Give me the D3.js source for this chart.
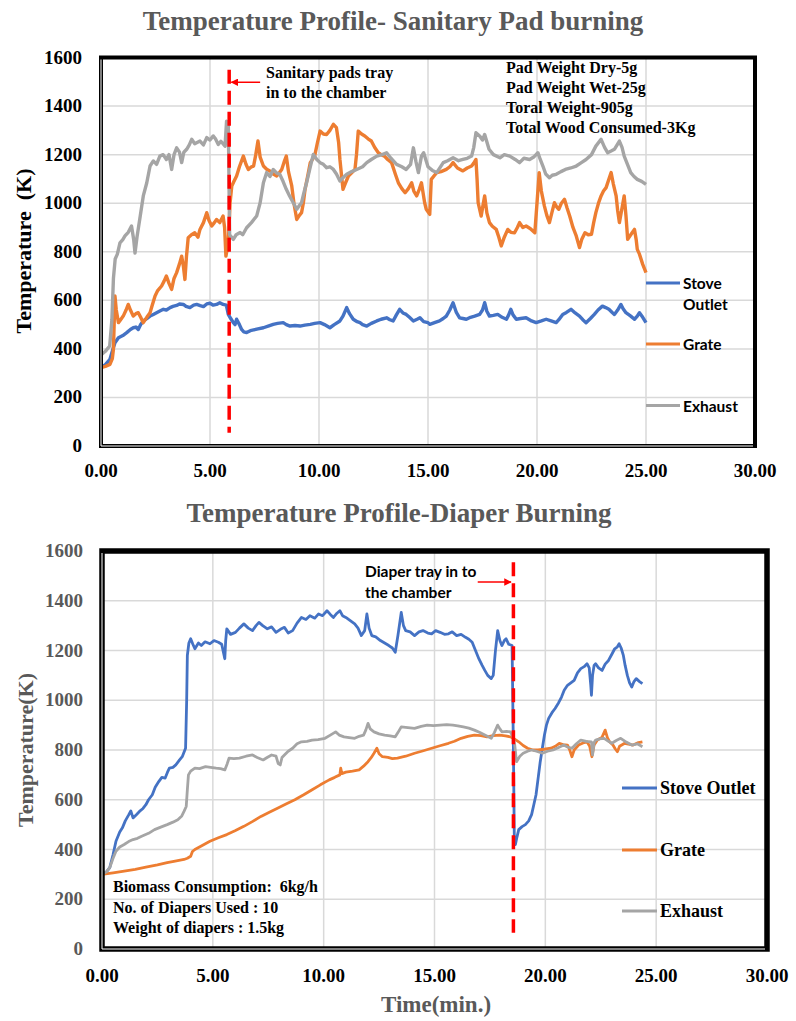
<!DOCTYPE html>
<html>
<head>
<meta charset="utf-8">
<script src="https://cdn.jsdelivr.net/npm/d3@7"></script>
<style>
  body { margin: 0; background: #fff; }
  svg { display: block; }
  text { white-space: pre; }
</style>
</head>
<body>
<div id="chart"></div>
<script>
// ticks shared by both panels
var xTicks = [0, 5, 10, 15, 20, 25, 30];
var yTicks = [0, 200, 400, 600, 800, 1000, 1200, 1400, 1600];
var seriesNames = ["Stove Outlet", "Grate", "Exhaust"];

// sanitary pad burning, [minutes, K]
var padStove = [[0,323],[0.2,335],[0.41,357],[0.55,400],[0.64,425],[0.8,446],[1.0,455],[1.18,467],[1.35,480],[1.48,487],[1.6,490],[1.71,480],[1.82,500],[1.94,515],[2.1,525],[2.25,535],[2.4,542],[2.55,549],[2.7,556],[2.86,563],[3.0,560],[3.17,570],[3.3,575],[3.47,579],[3.6,585],[3.78,583],[3.9,575],[4.08,570],[4.25,580],[4.39,583],[4.55,578],[4.7,574],[4.85,585],[5.0,588],[5.15,580],[5.3,583],[5.45,590],[5.6,583],[5.75,580],[5.84,542],[5.95,525],[6.07,508],[6.15,500],[6.22,522],[6.35,500],[6.45,480],[6.55,470],[6.68,467],[6.85,475],[7.0,478],[7.2,482],[7.45,487],[7.7,495],[7.9,501],[8.1,505],[8.36,508],[8.5,500],[8.67,494],[8.9,496],[9.13,494],[9.35,498],[9.6,501],[9.8,505],[10.05,508],[10.25,500],[10.5,487],[10.7,500],[10.96,515],[11.1,535],[11.27,570],[11.4,545],[11.57,522],[11.75,512],[11.88,508],[12.0,500],[12.19,494],[12.4,505],[12.65,515],[12.85,522],[13.1,528],[13.25,520],[13.4,515],[13.55,540],[13.7,563],[13.85,548],[14.0,542],[14.15,530],[14.33,515],[14.5,522],[14.63,528],[14.8,512],[15.0,508],[15.08,501],[15.3,508],[15.53,515],[15.7,525],[15.84,535],[16.0,560],[16.15,590],[16.3,550],[16.45,528],[16.6,525],[16.76,522],[16.95,530],[17.14,535],[17.37,542],[17.5,560],[17.6,590],[17.7,555],[17.82,535],[18.0,538],[18.2,542],[18.4,530],[18.6,522],[18.7,540],[18.8,563],[18.9,540],[19.05,522],[19.25,525],[19.5,528],[19.75,515],[19.96,508],[20.2,515],[20.42,522],[20.65,515],[20.88,508],[21.0,520],[21.18,542],[21.35,550],[21.56,563],[21.75,548],[21.95,535],[22.1,520],[22.25,508],[22.45,525],[22.63,542],[22.8,560],[23.0,576],[23.15,570],[23.3,563],[23.45,550],[23.55,542],[23.7,560],[23.85,583],[23.95,565],[24.08,549],[24.3,535],[24.47,522],[24.6,535],[24.7,549],[24.85,530],[25.0,508]];
var padGrate = [[0,323],[0.2,328],[0.41,336],[0.52,360],[0.57,398],[0.64,618],[0.7,560],[0.8,508],[0.9,520],[1.02,535],[1.15,560],[1.25,583],[1.35,560],[1.48,535],[1.6,545],[1.71,549],[1.82,530],[1.94,508],[2.1,530],[2.25,549],[2.35,580],[2.48,618],[2.6,640],[2.78,659],[2.9,680],[3.0,700],[3.12,670],[3.24,645],[3.35,690],[3.47,714],[3.6,750],[3.7,782],[3.78,740],[3.85,686],[3.92,780],[4.0,858],[4.15,870],[4.3,878],[4.45,860],[4.54,892],[4.7,920],[4.85,961],[4.95,930],[5.08,906],[5.2,920],[5.3,933],[5.45,920],[5.6,947],[5.67,900],[5.73,782],[5.84,837],[5.92,1000],[6.0,1071],[6.1,1090],[6.22,1112],[6.35,1150],[6.53,1194],[6.65,1160],[6.76,1139],[6.9,1150],[7.0,1153],[7.1,1200],[7.2,1256],[7.3,1190],[7.45,1153],[7.6,1140],[7.75,1133],[7.9,1120],[8.06,1112],[8.18,1125],[8.29,1139],[8.4,1170],[8.5,1194],[8.6,1130],[8.75,1071],[8.85,1000],[8.98,933],[9.1,950],[9.2,961],[9.28,1000],[9.36,1057],[9.5,1120],[9.6,1167],[9.8,1194],[9.93,1250],[10.05,1297],[10.2,1285],[10.35,1283],[10.5,1300],[10.66,1325],[10.8,1311],[10.9,1250],[10.96,1180],[11.05,1100],[11.1,1057],[11.2,1080],[11.35,1112],[11.5,1125],[11.65,1139],[11.72,1200],[11.8,1297],[11.95,1285],[12.1,1277],[12.25,1265],[12.4,1256],[12.55,1230],[12.72,1208],[12.85,1200],[13.0,1194],[13.15,1180],[13.33,1167],[13.5,1120],[13.64,1084],[13.8,1060],[13.95,1043],[14.1,1060],[14.25,1084],[14.35,1050],[14.48,1030],[14.6,1057],[14.7,1084],[14.85,1000],[14.92,975],[15.08,954],[15.15,1098],[15.3,1115],[15.4,1126],[15.6,1130],[15.84,1139],[16.0,1150],[16.15,1167],[16.35,1145],[16.6,1133],[16.8,1145],[17.0,1153],[17.1,1165],[17.2,1180],[17.25,1100],[17.3,1002],[17.44,947],[17.52,990],[17.6,1030],[17.7,960],[17.82,920],[17.95,905],[18.13,892],[18.25,860],[18.36,824],[18.5,860],[18.66,892],[18.8,880],[18.97,878],[19.1,900],[19.2,920],[19.35,900],[19.5,906],[19.7,895],[19.9,878],[20.0,1000],[20.1,1126],[20.2,1050],[20.34,988],[20.45,950],[20.57,920],[20.68,960],[20.8,1002],[20.9,985],[21.0,975],[21.12,1000],[21.26,1016],[21.38,980],[21.5,947],[21.65,900],[21.8,865],[21.95,817],[22.05,850],[22.2,878],[22.35,870],[22.5,872],[22.6,920],[22.7,961],[22.82,1000],[22.94,1030],[23.05,1050],[23.17,1064],[23.3,1100],[23.4,1126],[23.5,1080],[23.63,1030],[23.7,970],[23.78,920],[23.9,980],[24.0,1030],[24.08,950],[24.16,851],[24.3,870],[24.47,892],[24.55,850],[24.6,810],[24.7,790],[24.85,748],[25.0,714]];
var padExhaust = [[0,375],[0.2,390],[0.4,412],[0.5,520],[0.57,690],[0.65,770],[0.75,790],[0.87,837],[1.0,850],[1.1,865],[1.25,880],[1.4,906],[1.5,850],[1.56,795],[1.65,860],[1.8,947],[1.94,1030],[2.1,1084],[2.25,1153],[2.4,1174],[2.55,1160],[2.7,1194],[2.85,1200],[3.0,1180],[3.12,1200],[3.24,1139],[3.35,1200],[3.47,1228],[3.6,1210],[3.7,1167],[3.8,1210],[3.93,1222],[4.05,1240],[4.16,1263],[4.3,1245],[4.54,1256],[4.7,1240],[4.85,1270],[5.0,1260],[5.15,1277],[5.25,1265],[5.38,1242],[5.5,1255],[5.69,1235],[5.76,1338],[5.84,1331],[5.9,870],[6.07,851],[6.2,870],[6.38,879],[6.5,870],[6.68,899],[6.9,920],[7.14,947],[7.3,1002],[7.45,1084],[7.6,1126],[7.75,1110],[7.9,1139],[8.05,1125],[8.2,1119],[8.35,1090],[8.5,1057],[8.65,1030],[8.82,1002],[8.98,975],[9.1,990],[9.2,1002],[9.3,1040],[9.43,1084],[9.6,1150],[9.74,1201],[9.9,1180],[10.05,1167],[10.2,1160],[10.35,1146],[10.5,1150],[10.66,1139],[10.8,1120],[10.96,1091],[11.1,1105],[11.27,1119],[11.5,1130],[11.73,1139],[12.0,1150],[12.19,1167],[12.4,1180],[12.65,1194],[12.9,1200],[13.1,1208],[13.3,1185],[13.56,1160],[13.8,1150],[14.0,1139],[14.2,1160],[14.33,1228],[14.45,1170],[14.56,1126],[14.7,1194],[14.8,1208],[15.0,1150],[15.2,1135],[15.4,1126],[15.7,1167],[15.9,1175],[16.15,1187],[16.4,1175],[16.6,1180],[16.8,1185],[17.0,1194],[17.1,1230],[17.2,1290],[17.37,1277],[17.5,1260],[17.6,1283],[17.8,1222],[18.0,1200],[18.3,1187],[18.5,1200],[18.75,1194],[19.0,1180],[19.2,1167],[19.4,1185],[19.66,1180],[19.85,1190],[20.04,1208],[20.15,1180],[20.27,1153],[20.4,1120],[20.57,1105],[20.7,1115],[20.88,1119],[21.1,1130],[21.3,1139],[21.55,1145],[21.8,1153],[22.0,1165],[22.25,1180],[22.5,1200],[22.7,1235],[22.94,1263],[23.1,1230],[23.24,1208],[23.4,1215],[23.55,1222],[23.78,1256],[23.9,1230],[24.0,1194],[24.15,1160],[24.3,1126],[24.45,1110],[24.6,1098],[24.8,1090],[25.0,1077]];

// diaper burning
var diaperStove = [[0,300],[0.2,310],[0.35,327],[0.5,380],[0.63,433],[0.8,470],[0.92,487],[1.05,515],[1.21,540],[1.3,555],[1.4,527],[1.55,540],[1.69,553],[1.85,565],[1.98,580],[2.1,600],[2.27,620],[2.4,650],[2.56,673],[2.7,690],[2.85,687],[2.95,710],[3.04,727],[3.2,730],[3.33,740],[3.5,760],[3.62,773],[3.77,807],[3.82,1000],[3.85,1180],[3.92,1230],[4.0,1247],[4.1,1225],[4.19,1207],[4.35,1230],[4.48,1220],[4.65,1235],[4.87,1227],[5.05,1240],[5.25,1233],[5.4,1225],[5.54,1167],[5.58,1240],[5.63,1287],[5.8,1265],[6.02,1273],[6.2,1290],[6.4,1307],[6.6,1290],[6.79,1280],[6.95,1300],[7.08,1313],[7.25,1300],[7.46,1287],[7.65,1295],[7.85,1273],[8.05,1285],[8.23,1293],[8.4,1270],[8.6,1280],[8.8,1310],[9.0,1333],[9.2,1325],[9.38,1340],[9.6,1330],[9.77,1347],[9.95,1340],[10.15,1360],[10.3,1345],[10.44,1333],[10.6,1350],[10.73,1360],[10.85,1340],[11.0,1333],[11.2,1320],[11.4,1307],[11.55,1290],[11.7,1260],[11.85,1280],[11.95,1347],[12.05,1290],[12.17,1260],[12.35,1255],[12.56,1240],[12.75,1230],[12.94,1220],[13.1,1210],[13.23,1193],[13.35,1260],[13.5,1353],[13.6,1300],[13.7,1280],[13.9,1275],[14.1,1260],[14.3,1275],[14.48,1280],[14.7,1270],[14.87,1267],[15.05,1280],[15.25,1273],[15.45,1265],[15.63,1267],[15.8,1275],[16.0,1260],[16.2,1265],[16.4,1253],[16.55,1245],[16.7,1233],[16.85,1200],[17.0,1167],[17.15,1140],[17.27,1120],[17.4,1100],[17.56,1087],[17.65,1100],[17.75,1200],[17.85,1280],[17.95,1240],[18.04,1220],[18.15,1240],[18.23,1247],[18.35,1225],[18.5,1220],[18.56,800],[18.6,447],[18.65,420],[18.72,450],[18.8,480],[18.95,492],[19.1,500],[19.25,515],[19.38,540],[19.48,580],[19.58,620],[19.68,690],[19.77,753],[19.87,810],[19.96,860],[20.05,900],[20.15,927],[20.3,950],[20.44,967],[20.6,990],[20.73,1013],[20.85,1040],[21.0,1060],[21.15,1070],[21.3,1080],[21.45,1110],[21.6,1127],[21.75,1135],[21.88,1147],[21.98,1130],[22.05,1060],[22.08,1020],[22.13,1100],[22.2,1140],[22.27,1147],[22.4,1130],[22.56,1120],[22.7,1145],[22.85,1160],[23.0,1185],[23.13,1207],[23.25,1215],[23.33,1227],[23.42,1210],[23.52,1180],[23.6,1140],[23.7,1100],[23.8,1070],[23.9,1053],[24.0,1075],[24.1,1087],[24.25,1075],[24.38,1067]];
var diaperGrate = [[0,300],[0.5,306],[1.0,313],[1.5,320],[1.98,329],[2.5,338],[2.94,347],[3.3,353],[3.7,360],[3.85,365],[4.0,373],[4.08,392],[4.19,400],[4.5,415],[4.87,433],[5.25,447],[5.63,460],[6.0,475],[6.4,493],[6.8,513],[7.17,533],[7.55,550],[7.94,567],[8.3,583],[8.7,600],[9.1,620],[9.48,640],[9.85,660],[10.25,680],[10.5,690],[10.73,700],[10.77,727],[10.82,705],[11.0,711],[11.3,715],[11.6,720],[11.8,735],[12.0,753],[12.15,770],[12.27,787],[12.4,807],[12.5,785],[12.65,773],[12.9,770],[13.1,765],[13.33,767],[13.7,775],[14.1,787],[14.5,797],[14.87,807],[15.25,817],[15.63,827],[15.9,835],[16.2,847],[16.5,855],[16.8,860],[17.1,858],[17.37,853],[17.65,858],[17.94,860],[18.2,857],[18.42,853],[18.6,845],[18.8,833],[19.0,818],[19.2,807],[19.45,800],[19.67,800],[19.95,803],[20.25,807],[20.45,815],[20.63,827],[20.8,822],[21.0,820],[21.1,800],[21.2,773],[21.3,800],[21.5,820],[21.7,828],[21.88,833],[22.0,815],[22.1,773],[22.2,820],[22.35,840],[22.55,850],[22.7,880],[22.8,850],[22.9,833],[23.05,820],[23.15,805],[23.25,793],[23.35,815],[23.58,827],[23.8,823],[23.96,820],[24.2,830],[24.38,833]];
var diaperExhaust = [[0,300],[0.2,310],[0.35,327],[0.5,365],[0.63,393],[0.8,410],[1.0,420],[1.2,432],[1.4,440],[1.6,445],[1.79,453],[2.1,465],[2.37,480],[2.65,490],[2.94,500],[3.2,510],[3.42,520],[3.6,535],[3.7,553],[3.8,573],[3.85,640],[3.9,700],[4.0,715],[4.19,727],[4.4,725],[4.67,733],[4.9,730],[5.15,727],[5.35,725],[5.54,720],[5.65,745],[5.73,767],[5.95,765],[6.2,767],[6.5,775],[6.79,780],[7.0,770],[7.27,760],[7.45,770],[7.65,780],[7.85,775],[7.95,745],[8.04,740],[8.12,770],[8.23,780],[8.4,795],[8.6,807],[8.8,825],[9.0,833],[9.25,835],[9.48,840],[9.75,842],[10.06,847],[10.3,860],[10.54,873],[10.7,860],[10.92,853],[11.15,850],[11.4,847],[11.6,855],[11.8,860],[11.9,880],[12.0,907],[12.1,885],[12.27,873],[12.5,865],[12.75,860],[13.0,857],[13.23,853],[13.35,870],[13.5,893],[13.8,890],[14.1,887],[14.4,895],[14.67,900],[14.95,898],[15.25,900],[15.55,902],[15.83,900],[16.05,897],[16.3,893],[16.55,888],[16.8,880],[17.05,870],[17.27,860],[17.45,852],[17.56,847],[17.7,870],[17.85,900],[17.95,885],[18.04,873],[18.25,875],[18.42,873],[18.56,850],[18.62,820],[18.7,753],[18.85,775],[19.0,787],[19.2,795],[19.38,800],[19.6,795],[19.87,787],[20.1,795],[20.35,800],[20.6,810],[20.83,820],[21.0,812],[21.2,807],[21.4,825],[21.6,840],[21.85,835],[22.08,833],[22.13,780],[22.2,830],[22.27,840],[22.45,845],[22.65,847],[22.85,835],[23.0,827],[23.2,838],[23.4,847],[23.65,832],[23.9,820],[24.15,825],[24.38,813]];

// when the tray went in (minutes)
var padTrayTime = 5.88;
var diaperTrayTime = 18.56;

var colors = ["#4472C4", "#ED7D31", "#A5A5A5"];
var serif = "'Liberation Serif', 'Times New Roman', serif";
var sans = "Lato, 'Open Sans', sans-serif";
var titleGray = "#595959";

var svg = d3.select("#chart").append("svg")
  .attr("width", 796)
  .attr("height", 1021);

// red arrow head
svg.append("defs").append("marker")
  .attr("id", "redArrow")
  .attr("viewBox", "0 0 10 10")
  .attr("refX", 9).attr("refY", 5)
  .attr("markerWidth", 5).attr("markerHeight", 5)
  .attr("orient", "auto")
  .append("path")
  .attr("d", "M0,0 L10,5 L0,10 z")
  .attr("fill", "#ff0000");

function drawPanel(cfg) {
  var x = d3.scaleLinear().domain([0, 30]).range([cfg.left, cfg.right]);
  var y = d3.scaleLinear().domain([0, 1600]).range([cfg.bottom, cfg.top]);
  var g = svg.append("g");

  // grid
  g.selectAll(".hgrid").data(yTicks).enter().append("line")
    .attr("x1", cfg.left).attr("x2", cfg.right)
    .attr("y1", function(d) { return y(d); }).attr("y2", function(d) { return y(d); })
    .attr("stroke", "#d9d9d9").attr("stroke-width", 1.5);
  g.selectAll(".vgrid").data(xTicks).enter().append("line")
    .attr("y1", cfg.top).attr("y2", cfg.bottom)
    .attr("x1", function(d) { return x(d); }).attr("x2", function(d) { return x(d); })
    .attr("stroke", "#d9d9d9").attr("stroke-width", 1.5);

  // tick labels
  g.selectAll(".ylab").data(yTicks).enter().append("text")
    .attr("x", cfg.left - 19)
    .attr("y", function(d) { return y(d) + 6; })
    .attr("text-anchor", "end")
    .attr("font-family", serif).attr("font-weight", "bold")
    .attr("font-size", 19).attr("fill", cfg.yLabelColor)
    .text(function(d) { return d; });
  g.selectAll(".xlab").data(xTicks).enter().append("text")
    .attr("x", function(d) { return x(d); })
    .attr("y", cfg.xLabelY)
    .attr("text-anchor", "middle")
    .attr("font-family", serif).attr("font-weight", "bold")
    .attr("font-size", 19).attr("fill", "#000")
    .text(function(d) { return d3.format(".2f")(d); });

  // lines: stove, grate, exhaust (exhaust on top)
  var line = d3.line()
    .x(function(d) { return x(d[0]); })
    .y(function(d) { return y(d[1]); });
  cfg.series.forEach(function(s, i) {
    g.append("path")
      .datum(s)
      .attr("d", line)
      .attr("fill", "none")
      .attr("stroke", colors[i])
      .attr("stroke-width", cfg.lineWidth)
      .attr("stroke-linejoin", "round");
  });

  // tray marker
  g.append("line")
    .attr("x1", x(cfg.trayTime)).attr("x2", x(cfg.trayTime))
    .attr("y1", y(cfg.trayTop)).attr("y2", y(cfg.trayBottom))
    .attr("stroke", "#ff0000").attr("stroke-width", 3.5)
    .attr("stroke-dasharray", "14,7");
  g.append("line")
    .attr("x1", x(cfg.arrowFrom)).attr("x2", x(cfg.arrowTo))
    .attr("y1", y(cfg.arrowK)).attr("y2", y(cfg.arrowK))
    .attr("stroke", "#ff0000").attr("stroke-width", 1.5)
    .attr("marker-end", "url(#redArrow)");

  // frame, with a thin white gap on the left and bottom edges
  g.append("rect")
    .attr("x", cfg.left).attr("y", cfg.top)
    .attr("width", cfg.right - cfg.left).attr("height", cfg.bottom - cfg.top)
    .attr("fill", "none").attr("stroke", "#000").attr("stroke-width", cfg.frameWidth);
  g.append("path")
    .attr("d", "M" + cfg.left + "," + (cfg.top + 2) + "V" + cfg.bottom + "H" + (cfg.right - 2))
    .attr("fill", "none").attr("stroke", "#fff").attr("stroke-width", 1);

  // legend
  seriesNames.forEach(function(name, i) {
    var ly = cfg.legendY[i];
    g.append("line")
      .attr("x1", cfg.legendX).attr("x2", cfg.legendX + cfg.legendLen)
      .attr("y1", ly).attr("y2", ly)
      .attr("stroke", colors[i]).attr("stroke-width", 3);
    var t = g.append("text")
      .attr("x", cfg.legendX + cfg.legendLen + 3)
      .attr("y", ly + 6)
      .attr("font-family", cfg.legendFont).attr("font-weight", "bold")
      .attr("font-size", cfg.legendSize).attr("fill", "#000");
    var parts = cfg.legendWrap && name === "Stove Outlet" ? ["Stove", "Outlet"] : [name];
    parts.forEach(function(p, j) {
      t.append("tspan").attr("x", cfg.legendX + cfg.legendLen + 3)
        .attr("dy", j === 0 ? 0 : 21).text(p);
    });
  });
  return g;
}

function addText(lines, x, y, step, font, size, color, anchor) {
  lines.forEach(function(s, i) {
    svg.append("text")
      .attr("x", x).attr("y", y + i * step)
      .attr("text-anchor", anchor || "start")
      .attr("font-family", font).attr("font-weight", "bold")
      .attr("font-size", size).attr("fill", color)
      .text(s);
  });
}

// ---- top panel
drawPanel({
  left: 101, right: 755, top: 57.5, bottom: 446,
  series: [padStove, padGrate, padExhaust],
  yLabelColor: "#000", xLabelY: 477, lineWidth: 3.4,
  trayTime: padTrayTime, trayTop: 1550, trayBottom: 55,
  arrowFrom: 7.3, arrowTo: 5.98, arrowK: 1498,
  frameWidth: 4,
  legendX: 646, legendLen: 34, legendY: [283, 344, 405.5],
  legendFont: sans, legendSize: 15.5, legendWrap: true
});
addText(["Temperature Profile- Sanitary Pad burning"], 393, 30, 0, serif, 27, titleGray, "middle");
addText(["Sanitary pads tray", "in to the chamber"], 266, 78, 20, serif, 16, "#000");
addText(["Pad Weight Dry-5g", "Pad Weight Wet-25g", "Toral Weight-905g", "Total Wood Consumed-3Kg"], 506, 73, 20, serif, 16, "#000");
svg.append("text")
  .attr("transform", "translate(31,251) rotate(-90)")
  .attr("text-anchor", "middle")
  .attr("font-family", serif).attr("font-weight", "bold")
  .attr("font-size", 22).attr("fill", "#000")
  .text("Temperature  (K)");

// ---- bottom panel
drawPanel({
  left: 102, right: 767, top: 551, bottom: 949,
  series: [diaperStove, diaperGrate, diaperExhaust],
  yLabelColor: titleGray, xLabelY: 982, lineWidth: 2.8,
  trayTime: diaperTrayTime, trayTop: 1555, trayBottom: 65,
  arrowFrom: 16.95, arrowTo: 18.45, arrowK: 1475,
  frameWidth: 5.5,
  legendX: 622, legendLen: 35, legendY: [788, 850, 911],
  legendFont: serif, legendSize: 18, legendWrap: false
});
addText(["Temperature Profile-Diaper Burning"], 399, 522, 0, serif, 27, titleGray, "middle");
addText(["Diaper tray in to", "the chamber"], 365, 577, 21, sans, 15.5, "#000");
addText(["Biomass Consumption:  6kg/h", "No. of Diapers Used : 10", "Weight of diapers : 1.5kg"], 113, 892, 20.5, serif, 16, "#000");
svg.append("text")
  .attr("transform", "translate(33,750) rotate(-90)")
  .attr("text-anchor", "middle")
  .attr("font-family", serif).attr("font-weight", "bold")
  .attr("font-size", 22).attr("fill", titleGray)
  .text("Temperature(K)");
addText(["Time(min.)"], 436, 1012, 0, serif, 23, titleGray, "middle");
</script>
</body>
</html>
